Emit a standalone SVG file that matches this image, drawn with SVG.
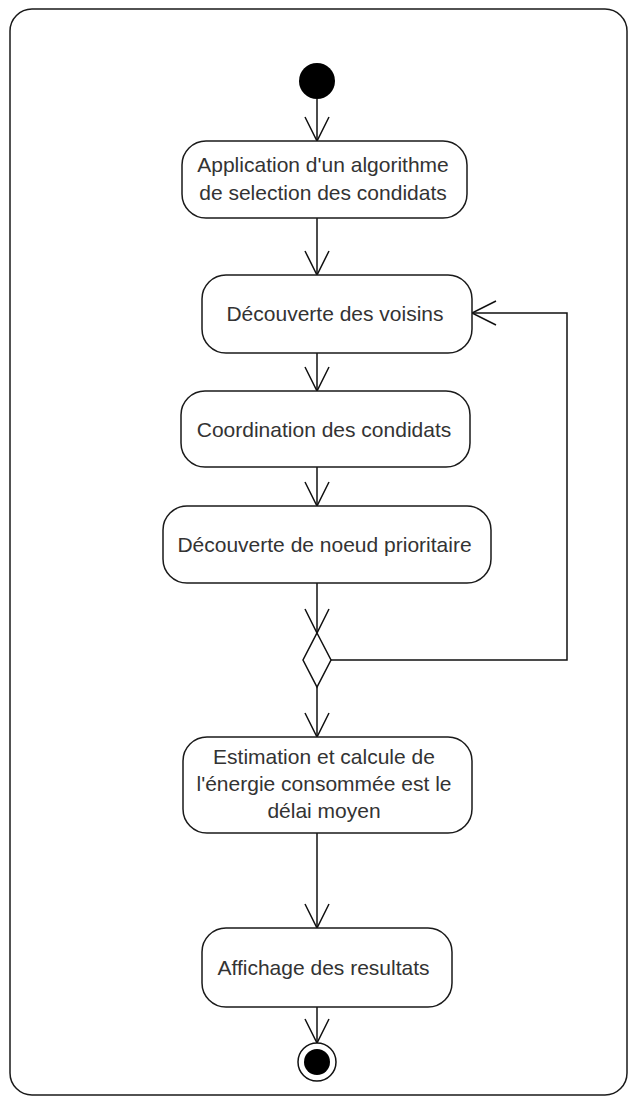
<svg xmlns="http://www.w3.org/2000/svg" width="631" height="1097" viewBox="0 0 631 1097">
  <style>
    .frame { fill: #ffffff; stroke: #1a1a1a; stroke-width: 1.5; }
    .action { fill: #ffffff; stroke: #1a1a1a; stroke-width: 1.5; }
    .label { font-family: "Liberation Sans", Arial, sans-serif; font-size: 21px; fill: #333333; text-anchor: middle; }
    .flow { fill: none; stroke: #111111; stroke-width: 1.5; marker-end: url(#open-arrow); }
    .decision { fill: #ffffff; stroke: #111111; stroke-width: 1.5; }
  </style>
  <defs>
    <marker id="open-arrow" markerWidth="30" markerHeight="30" refX="25" refY="13" orient="auto" markerUnits="userSpaceOnUse">
      <path d="M1,1 L25,13 L1,25" fill="none" stroke="#111111" stroke-width="1.5"/>
    </marker>
  </defs>

  <rect width="631" height="1097" fill="#ffffff"/>

  <!-- activity frame -->
  <rect id="frame" class="frame" x="10" y="9" width="617" height="1086" rx="22" ry="22"/>

  <!-- control flows -->
  <g id="connectors">
    <path class="flow" d="M317,99 L317,141"/>
    <path class="flow" d="M317,218 L317,275"/>
    <path class="flow" d="M317,353 L317,391"/>
    <path class="flow" d="M317,467 L317,506"/>
    <path class="flow" d="M317,583 L317,633"/>
    <path class="flow" d="M317,687 L317,737"/>
    <path class="flow" d="M331,660 L567,660 L567,313 L472,313"/>
    <path class="flow" d="M317,833 L317,928"/>
    <path class="flow" d="M317,1007 L317,1043"/>
  </g>

  <!-- initial node -->
  <g id="start">
    <circle cx="317" cy="81" r="18" fill="#000000"/>
  </g>

  <g id="node-application">
    <rect class="action" x="182" y="141" width="285" height="77" rx="24" ry="24"/>
    <text class="label" x="323" y="172">Application d'un algorithme</text>
    <text class="label" x="323" y="200">de selection des condidats</text>
  </g>

  <g id="node-voisins">
    <rect class="action" x="202" y="275" width="270" height="78" rx="24" ry="24"/>
    <text class="label" x="335" y="321">Découverte des voisins</text>
  </g>

  <g id="node-coordination">
    <rect class="action" x="181" y="391" width="289" height="76" rx="24" ry="24"/>
    <text class="label" x="324" y="437">Coordination des condidats</text>
  </g>

  <g id="node-prioritaire">
    <rect class="action" x="163" y="506" width="328" height="77" rx="24" ry="24"/>
    <text class="label" x="324.5" y="552">Découverte de noeud prioritaire</text>
  </g>

  <g id="decision">
    <polygon class="decision" points="317,633 331,660 317,687 303,660"/>
  </g>

  <g id="node-estimation">
    <rect class="action" x="183" y="737" width="289" height="96" rx="24" ry="24"/>
    <text class="label" x="324" y="764">Estimation et calcule de</text>
    <text class="label" x="324" y="791">l'énergie consommée est le</text>
    <text class="label" x="324" y="818">délai moyen</text>
  </g>

  <g id="node-affichage">
    <rect class="action" x="202" y="928" width="250" height="79" rx="24" ry="24"/>
    <text class="label" x="323.5" y="975">Affichage des resultats</text>
  </g>

  <!-- final node -->
  <g id="end">
    <circle cx="317" cy="1062" r="19" fill="#ffffff" stroke="#111111" stroke-width="1.5"/>
    <circle cx="317" cy="1062" r="13" fill="#000000"/>
  </g>
</svg>
